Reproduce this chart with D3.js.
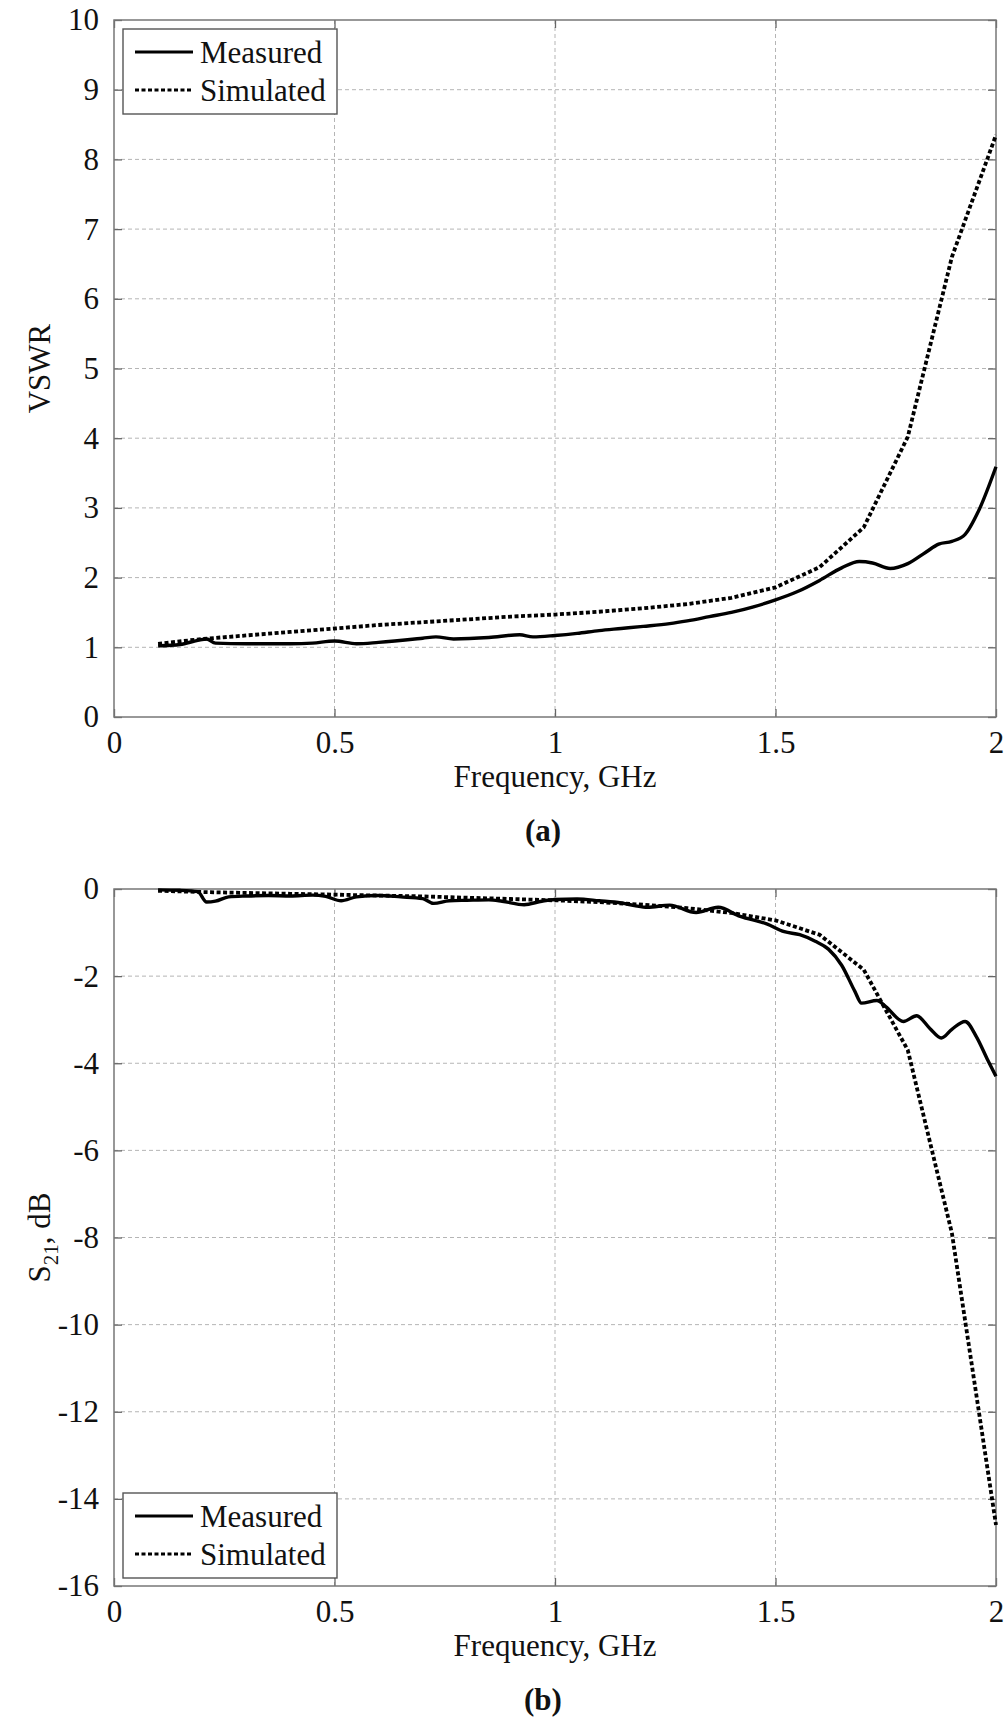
<!DOCTYPE html>
<html>
<head>
<meta charset="utf-8">
<script src="https://cdn.jsdelivr.net/npm/d3@7"></script>
<style>
  body { margin: 0; background: #fff; }
  text { font-family: "Liberation Serif", "Times New Roman", serif; fill: #111; }
</style>
</head>
<body>
<svg id="chart" width="1007" height="1722"></svg>
<script>
// x ticks shared by both panels
const xTicks = [0, 0.5, 1, 1.5, 2];
const vswrTicks = [0, 1, 2, 3, 4, 5, 6, 7, 8, 9, 10];
const s21Ticks = [0, -2, -4, -6, -8, -10, -12, -14, -16];

// (a) VSWR
const vswrMeasured = [
  [0.10, 1.02], [0.15, 1.04], [0.19, 1.10], [0.21, 1.12], [0.23, 1.06], [0.30, 1.05],
  [0.40, 1.05], [0.45, 1.06], [0.50, 1.09], [0.55, 1.05], [0.60, 1.07], [0.70, 1.13],
  [0.73, 1.15], [0.77, 1.12], [0.85, 1.14], [0.92, 1.18], [0.95, 1.15], [1.00, 1.17],
  [1.05, 1.20], [1.10, 1.24], [1.15, 1.27], [1.20, 1.30], [1.26, 1.34], [1.30, 1.38],
  [1.35, 1.44], [1.40, 1.50], [1.45, 1.58], [1.50, 1.68], [1.55, 1.80], [1.60, 1.96],
  [1.65, 2.14], [1.69, 2.23], [1.72, 2.21], [1.76, 2.13], [1.80, 2.20], [1.84, 2.36],
  [1.87, 2.48], [1.90, 2.52], [1.93, 2.62], [1.96, 2.95], [2.00, 3.59]
];
const vswrSimulated = [
  [0.1, 1.05], [0.2, 1.12], [0.3, 1.17], [0.4, 1.22], [0.5, 1.27], [0.6, 1.32],
  [0.7, 1.36], [0.8, 1.40], [0.9, 1.44], [1.0, 1.47], [1.1, 1.51], [1.2, 1.56],
  [1.3, 1.62], [1.4, 1.71], [1.5, 1.86], [1.6, 2.15], [1.7, 2.72], [1.8, 4.02],
  [1.9, 6.6], [2.0, 8.35]
];

// (b) S21
const s21Measured = [
  [0.10, -0.02], [0.15, -0.03], [0.19, -0.06], [0.21, -0.30], [0.23, -0.28], [0.26, -0.18],
  [0.30, -0.16], [0.35, -0.15], [0.40, -0.16], [0.45, -0.14], [0.48, -0.17], [0.515, -0.27],
  [0.55, -0.18], [0.60, -0.15], [0.65, -0.18], [0.70, -0.22], [0.725, -0.33], [0.76, -0.27],
  [0.80, -0.26], [0.85, -0.25], [0.88, -0.28], [0.93, -0.36], [0.97, -0.28], [1.00, -0.24],
  [1.05, -0.23], [1.10, -0.27], [1.15, -0.32], [1.18, -0.38], [1.21, -0.42], [1.26, -0.37],
  [1.32, -0.54], [1.37, -0.42], [1.42, -0.63], [1.48, -0.80], [1.52, -0.98], [1.555, -1.05],
  [1.59, -1.20], [1.62, -1.38], [1.65, -1.75], [1.68, -2.35], [1.695, -2.62], [1.73, -2.56],
  [1.75, -2.70], [1.79, -3.04], [1.82, -2.91], [1.85, -3.20], [1.876, -3.42], [1.90, -3.22],
  [1.93, -3.04], [1.956, -3.40], [1.98, -3.90], [2.00, -4.30]
];
const s21Simulated = [
  [0.1, -0.04], [0.2, -0.07], [0.3, -0.09], [0.4, -0.11], [0.5, -0.13], [0.6, -0.15],
  [0.7, -0.17], [0.8, -0.2], [0.9, -0.23], [1.0, -0.26], [1.1, -0.3], [1.2, -0.36],
  [1.3, -0.44], [1.4, -0.55], [1.5, -0.72], [1.6, -1.05], [1.7, -1.85], [1.8, -3.7],
  [1.9, -7.9], [2.0, -14.6]
];

const svg = d3.select("#chart");
const left = 114, right = 996;
const simDash = "4,2.5";
const fmt = d => String(d); // plain hyphen minus, like the original

function panel(o) {
  const x = d3.scaleLinear().domain([0, 2]).range([left, right]);
  const y = d3.scaleLinear().domain(o.yDomain).range([o.bottom, o.top]);
  const g = svg.append("g");

  // grid
  g.selectAll(".gx").data(xTicks.slice(1, -1)).join("line")
    .attr("x1", d => x(d)).attr("x2", d => x(d))
    .attr("y1", o.top).attr("y2", o.bottom)
    .attr("stroke", "#b5b5b5").attr("stroke-dasharray", "4,3");
  g.selectAll(".gy").data(o.ticks.filter(d => d !== o.yDomain[0] && d !== o.yDomain[1])).join("line")
    .attr("x1", left).attr("x2", right)
    .attr("y1", d => y(d)).attr("y2", d => y(d))
    .attr("stroke", "#b5b5b5").attr("stroke-dasharray", "4,3");

  // axes with inner ticks
  const ax = d3.axisBottom(x).tickValues(xTicks).tickSizeInner(-8).tickSizeOuter(0).tickPadding(13)
    .tickFormat(fmt);
  const gx = g.append("g").attr("transform", `translate(0,${o.bottom})`).call(ax);
  gx.selectAll("text").attr("font-size", 31).attr("dy", "0.75em");
  const ay = d3.axisLeft(y).tickValues(o.ticks).tickSizeInner(-8).tickSizeOuter(0).tickPadding(15)
    .tickFormat(fmt);
  const gy = g.append("g").attr("transform", `translate(${left},0)`).call(ay);
  gy.selectAll("text").attr("font-size", 31);
  g.append("g").attr("transform", `translate(0,${o.top})`)
    .call(d3.axisTop(x).tickValues(xTicks).tickSizeInner(-8).tickSizeOuter(0).tickFormat(""));
  g.append("g").attr("transform", `translate(${right},0)`)
    .call(d3.axisRight(y).tickValues(o.ticks).tickSizeInner(-8).tickSizeOuter(0).tickFormat(""));
  g.selectAll(".domain").remove();
  g.selectAll(".tick line").attr("stroke", "#666").attr("stroke-width", 1.3);

  g.append("rect").attr("x", left).attr("y", o.top)
    .attr("width", right - left).attr("height", o.bottom - o.top)
    .attr("fill", "none").attr("stroke", "#777").attr("stroke-width", 1.5);

  // curves
  const line = d3.line().x(d => x(d[0])).y(d => y(d[1]));
  g.append("path").datum(o.measured)
    .attr("d", line.curve(d3.curveMonotoneX))
    .attr("fill", "none").attr("stroke", "#000").attr("stroke-width", 3.4);
  g.append("path").datum(o.simulated)
    .attr("d", line.curve(d3.curveLinear))
    .attr("fill", "none").attr("stroke", "#000").attr("stroke-width", 3.8)
    .attr("stroke-dasharray", simDash);

  // axis titles
  g.append("text").attr("x", (left + right) / 2).attr("y", o.bottom + 70)
    .attr("text-anchor", "middle").attr("font-size", 31).text("Frequency, GHz");
  const yt = g.append("text")
    .attr("transform", `translate(50,${(o.top + o.bottom) / 2}) rotate(-90)`)
    .attr("text-anchor", "middle").attr("font-size", 31);
  o.yTitle(yt);
  g.append("text").attr("x", 543).attr("y", o.bottom + 124)
    .attr("text-anchor", "middle").attr("font-size", 31).attr("font-weight", "bold").text(o.tag);

  // legend
  const lg = g.append("g").attr("transform", `translate(123,${o.legendY})`);
  lg.append("rect").attr("width", 214).attr("height", 85)
    .attr("fill", "#fff").attr("stroke", "#555").attr("stroke-width", 1.4);
  const items = [["Measured", null], ["Simulated", simDash]];
  items.forEach((it, i) => {
    const cy = 23 + i * 38;
    lg.append("line").attr("x1", 12).attr("x2", 70).attr("y1", cy).attr("y2", cy)
      .attr("stroke", "#000").attr("stroke-width", 3.2)
      .attr("stroke-dasharray", it[1]);
    lg.append("text").attr("x", 77).attr("y", cy).attr("dy", "0.35em")
      .attr("font-size", 31).text(it[0]);
  });
}

panel({
  top: 20, bottom: 717, yDomain: [0, 10], ticks: vswrTicks,
  measured: vswrMeasured, simulated: vswrSimulated, tag: "(a)", legendY: 29,
  yTitle: t => t.text("VSWR")
});

panel({
  top: 889, bottom: 1586, yDomain: [-16, 0], ticks: s21Ticks,
  measured: s21Measured, simulated: s21Simulated, tag: "(b)", legendY: 1493,
  yTitle: t => {
    t.append("tspan").text("S");
    t.append("tspan").attr("font-size", 21).attr("dy", 8).text("21");
    t.append("tspan").attr("dy", -8).text(", dB");
  }
});
</script>
</body>
</html>
